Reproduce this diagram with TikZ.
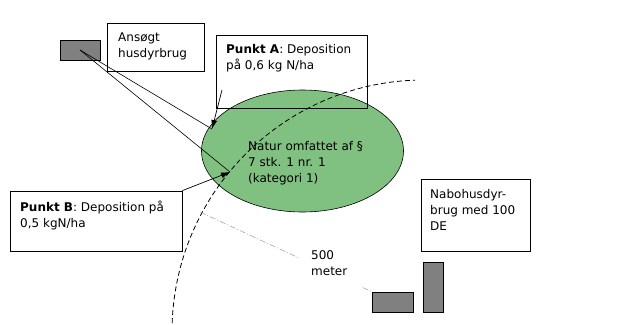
\documentclass[tikz,border=0pt]{standalone}
\usepackage{fontspec}
\setmainfont{DejaVu Sans}
\usetikzlibrary{shapes.geometric,arrows.meta,calc}
\definecolor{naturgreen}{RGB}{128,192,128}
\definecolor{bldgray}{RGB}{128,128,128}
\tikzset{
  box/.style={draw, line width=0.8pt, rectangle},
  bld/.style={draw, line width=0.6pt, fill=bldgray, rectangle},
  lbl/.style={align=left, inner sep=0pt, anchor=north west, font=\fontsize{12}{16}\selectfont},
  pil/.style={line width=0.7pt, -{Latex[length=9pt,width=6pt]}}
}
\begin{document}
\begin{tikzpicture}[x=1pt,y=1pt]
\useasboundingbox (0,0) rectangle (626,-324);
% natur
\node[ellipse, draw, line width=0.6pt, fill=naturgreen, minimum width=202, minimum height=122] (natur) at (302.5,-151) {};
\node[lbl] (naturtxt) at (248,-141) {Natur omfattet af §\\7 stk. 1 nr. 1\\(kategori 1)};
% 500 meter
\coordinate (ctr) at (424,-332);
\draw[line width=0.8pt, dash pattern=on 5pt off 3pt] (ctr) ++(178:252) arc[start angle=178, end angle=92, radius=252];
% bygninger
\node[bld, minimum width=40, minimum height=20] (bldA) at (80,-50) {};
\node[bld, minimum width=41, minimum height=20] (bldN1) at (392.5,-302) {};
\node[bld, minimum width=20, minimum height=50] (bldN2) at (433,-287) {};
\coordinate (rim) at (200,-212);
\draw[gray!70, line width=0.6pt, dash pattern=on 6pt off 2pt on 1pt off 2pt] (rim) -- ($(rim)!0.58!(bldN1.north west)$);
\draw[gray!70, line width=0.6pt, dash pattern=on 6pt off 2pt on 1pt off 2pt] ($(rim)!0.948!(bldN1.north west)$) -- (bldN1.north west);
\node[lbl] (radius) at (311,-250) {500\\meter};
% linjer
\coordinate (ptA) at (212,-129);
\coordinate (ptB) at (230,-172);
\coordinate (aTail) at (222,-90);
\draw[line width=0.6pt] (bldA.center) -- (ptA);
\draw[line width=0.6pt] (bldA.center) -- (ptB);
% kasser
\node[box, minimum width=97, minimum height=48] (boxAns) at (155.5,-47) {};
\node[lbl] (anstxt) at (118,-33) {Ansøgt\\husdyrbrug};
\node[box, minimum width=151, minimum height=73] (boxA) at (291.5,-71.5) {};
\node[lbl] (atxt) at (226,-44) {\textbf{Punkt A}: Deposition\\på 0,6 kg N/ha};
\node[box, minimum width=172, minimum height=60] (boxB) at (96,-221) {};
\node[lbl] (btxt) at (20,-201) {\textbf{Punkt B}: Deposition på\\0,5 kgN/ha};
\node[box, minimum width=109, minimum height=72] (boxNabo) at (475.5,-215) {};
\node[lbl] (nabotxt) at (430,-189) {Nabohusdyr-\\brug med 100\\DE};
% pile
\draw[pil] (aTail) -- (ptA);
\draw[pil] (boxB.north east) -- (ptB);
\end{tikzpicture}
\end{document}
